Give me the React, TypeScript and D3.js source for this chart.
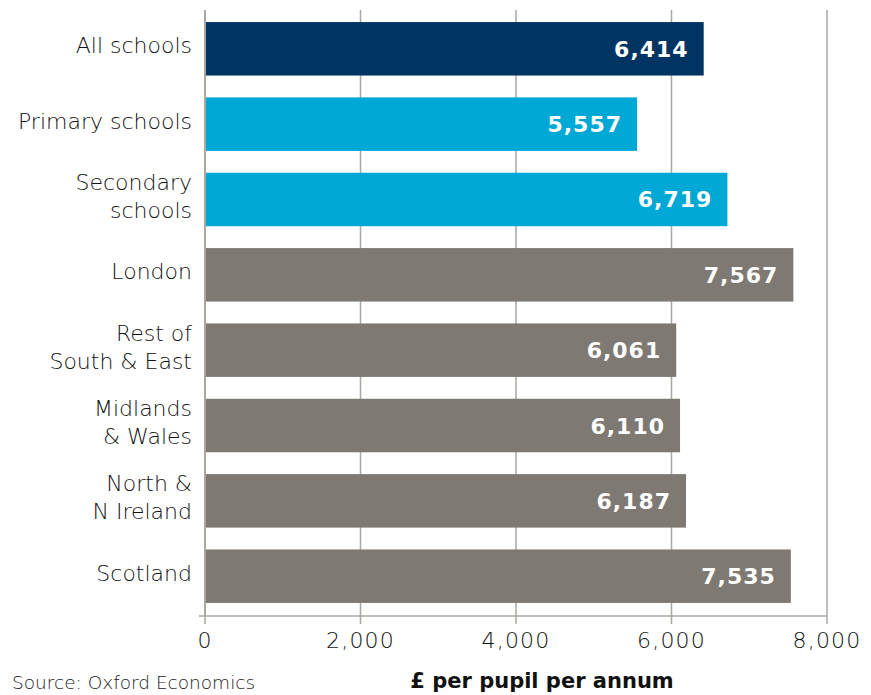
import React from "react";
import * as d3 from "d3";

const categories: string[][] = [
  ["All schools"],
  ["Primary schools"],
  ["Secondary", "schools"],
  ["London"],
  ["Rest of", "South & East"],
  ["Midlands", "& Wales"],
  ["North &", "N Ireland"],
  ["Scotland"],
];
const values = [6414, 5557, 6719, 7567, 6061, 6110, 6187, 7535];
const colors = ["#003462", "#00a8d6", "#00a8d6", "#7e7a73", "#7e7a73", "#7e7a73", "#7e7a73", "#7e7a73"];
const ticks = [0, 2000, 4000, 6000, 8000];

const W = 871;
const H = 695;
const FONT = "'DejaVu Sans', sans-serif";

export default function App() {
  const x = d3.scaleLinear().domain([0, 8000]).range([205, 827]);
  const y = d3
    .scaleBand<number>()
    .domain(d3.range(values.length))
    .range([10, 615])
    .paddingInner(0.29)
    .paddingOuter(0.16);
  const fmt = d3.format(",");
  const axisY = 616;
  const lineGap = 28;
  return (
    <svg
      width={W}
      height={H}
      style={{ position: "absolute", left: 0, top: 0, background: "#fff" }}
      fontFamily={FONT}
    >
      {ticks.slice(1).map((t) => (
        <line key={t} x1={x(t)} x2={x(t)} y1={10} y2={axisY} stroke="#aaa6a2" strokeWidth={1.5} />
      ))}
      {values.map((v, i) => {
        const cy = y(i)! + y.bandwidth() / 2;
        const n = categories[i].length;
        return (
          <g key={i}>
            <rect x={x(0)} y={y(i)!} width={x(v) - x(0)} height={y.bandwidth()} fill={colors[i]} />
            <text
              x={x(v) - 15}
              y={cy + 8}
              textAnchor="end"
              fill="#fff"
              fontWeight="bold"
              fontSize={22}
              letterSpacing={1}
            >
              {fmt(v)}
            </text>
            <text x={192} textAnchor="end" fill="#111" fontSize={22} fontWeight={200}>
              {categories[i].map((line, j) => (
                <tspan key={j} x={192} y={cy + 4.5 - ((n - 1) * lineGap) / 2 + j * lineGap}>
                  {line}
                </tspan>
              ))}
            </text>
          </g>
        );
      })}
      <line x1={x(0)} x2={x(0)} y1={10} y2={axisY} stroke="#aaa6a2" strokeWidth={2} />
      <line x1={199} x2={x(8000)} y1={axisY} y2={axisY} stroke="#aaa6a2" strokeWidth={1.5} />
      {ticks.map((t) => (
        <g key={t}>
          <line x1={x(t)} x2={x(t)} y1={axisY} y2={axisY + 8} stroke="#aaa6a2" strokeWidth={1.5} />
          <text
            x={x(t)}
            y={648}
            textAnchor="middle"
            fill="#111"
            fontSize={22}
            fontWeight={200}
            letterSpacing={1.2}
          >
            {fmt(t)}
          </text>
        </g>
      ))}
      <text x={542} y={688} textAnchor="middle" fill="#111" fontWeight="bold" fontSize={21}>
        £ per pupil per annum
      </text>
      <text x={12} y={689} fill="#222" fontSize={18.5} fontWeight={200}>
        Source: Oxford Economics
      </text>
    </svg>
  );
}
